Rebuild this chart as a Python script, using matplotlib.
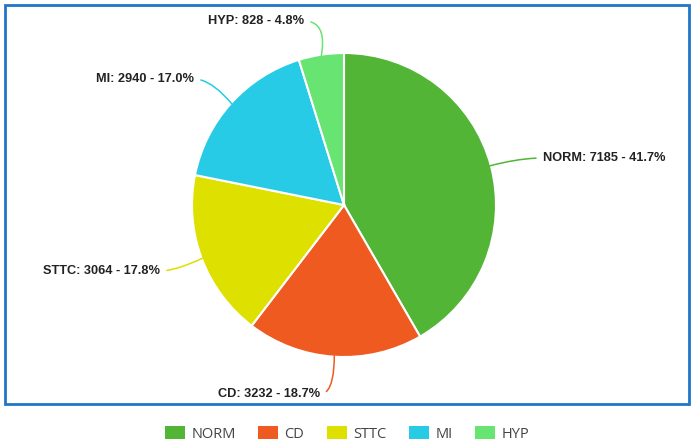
import numpy as np
import matplotlib.pyplot as plt
from matplotlib.patches import Rectangle, Patch

labels = ["NORM", "CD", "STTC", "MI", "HYP"]
counts = [7185, 3232, 3064, 2940, 828]
pcts = [41.7, 18.7, 17.8, 17.0, 4.8]
colors = ["#52b535", "#ee5a1f", "#dee000", "#27cbe5", "#67e472"]

# label text anchors (pixel coords, y down), alignment, leader line end angle
label_pos = [(543, 158), (320, 394), (160, 271), (194, 79), (304, 21)]
label_ha = ["left", "right", "right", "right", "right"]
label_angB = [15, 90, 25, 130, 80]

W, H = 695, 447
fig = plt.figure(figsize=(6.95, 4.47), dpi=100)
ax = fig.add_axes([0, 0, 1, 1])

cx, cy, r = 344, H - 205, 152
wedges, _ = ax.pie(counts, colors=colors, startangle=90, counterclock=False,
                   center=(cx, cy), radius=r,
                   wedgeprops=dict(edgecolor="white", linewidth=1.5))

ax.set_xlim(0, W)
ax.set_ylim(0, H)
ax.set_aspect("equal")
ax.axis("off")

ax.add_patch(Rectangle((5, H - 404), 684, 399, fill=False,
                       edgecolor="#1f76c9", linewidth=2))

for w, lab, n, p, pos, ha, angB, col in zip(wedges, labels, counts, pcts,
                                            label_pos, label_ha, label_angB, colors):
    ang = np.deg2rad((w.theta1 + w.theta2) / 2)
    ex = cx + (r - 1) * np.cos(ang)
    ey = cy + (r - 1) * np.sin(ang)
    rel = (0, 0.5) if ha == "left" else (1, 0.5)
    ax.annotate(f"{lab}: {n} - {p:.1f}%", xy=(ex, ey),
                xytext=(pos[0], H - pos[1]), ha=ha, va="center",
                fontsize=9.2, fontweight="bold", family="Liberation Sans",
                color="#222222",
                arrowprops=dict(arrowstyle="-", color=col, lw=1.1,
                                shrinkA=3, shrinkB=0, relpos=rel,
                                connectionstyle=f"angle3,angleA=0,angleB={angB}"))

handles = [Patch(facecolor=c, edgecolor="none") for c in colors]
fig.legend(handles, labels, loc="center", bbox_to_anchor=(347 / W, 13 / H),
           ncol=5, frameon=False, handlelength=1.35,
           handleheight=1.0, columnspacing=1.55, handletextpad=0.45,
           labelcolor="#444444", prop={"family": "Open Sans", "size": 10.5})

fig.savefig("out.png", dpi=100)
